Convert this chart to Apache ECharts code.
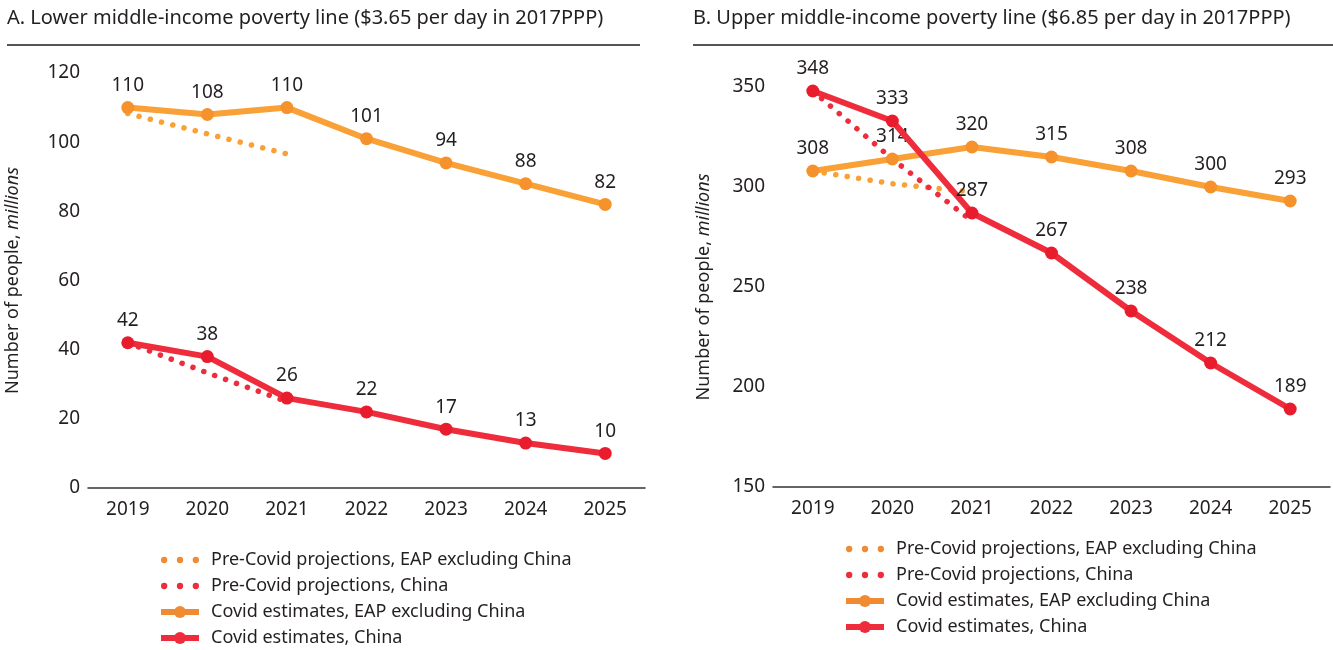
<!DOCTYPE html>
<html>
<head>
<meta charset="utf-8">
<script src="https://cdn.jsdelivr.net/npm/echarts@6/dist/echarts.min.js"></script>
<style>
html,body{margin:0;padding:0;background:#fff;}
#chart{width:1333px;height:650px;}
</style>
</head>
<body>
<div id="chart"></div>
<script>
// ---- Data ----
const years = ['2019','2020','2021','2022','2023','2024','2025'];

// Panel A: Lower middle-income poverty line ($3.65)
const aPreEAP   = [108.3, 102.4, 96.6, '-', '-', '-', '-'];
const aPreChina = [42, 33.3, 25, '-', '-', '-', '-'];
const aCovEAP   = [110, 108, 110, 101, 94, 88, 82];
const aCovChina = [42, 38, 26, 22, 17, 13, 10];

// Panel B: Upper middle-income poverty line ($6.85)
const bPreEAP   = [308, 301.6, 297.5, '-', '-', '-', '-'];
const bPreChina = [348, 314, 283, '-', '-', '-', '-'];
const bCovEAP   = [308, 314, 320, 315, 308, 300, 293];
const bCovChina = [348, 333, 287, 267, 238, 212, 189];

const titleA = 'A. Lower middle-income poverty line ($3.65 per day in 2017PPP)';
const titleB = 'B. Upper middle-income poverty line ($6.85 per day in 2017PPP)';
const names = [
  'Pre-Covid projections, EAP excluding China',
  'Pre-Covid projections, China',
  'Covid estimates, EAP excluding China',
  'Covid estimates, China'
];

// ---- Styles ----
const FONT = 'Noto Sans';
const TXT = '#231f20';
const ORANGE = '#f9a036';
const ORANGE_M = '#f5922c';
const RED = '#ee2c3c';
const RED_M = '#e91c2e';
const DOTS = 'path://M0,3A3,3,0,1,1,6,3A3,3,0,1,1,0,3Z M15,3A3,3,0,1,1,21,3A3,3,0,1,1,15,3Z M30,3A3,3,0,1,1,36,3A3,3,0,1,1,30,3Z';

function dotted(name, data, color, idx) {
  return {
    name: name, type: 'line', xAxisIndex: idx, yAxisIndex: idx,
    data: data, symbol: 'none', silent: true, z: 2,
    lineStyle: { color: color, width: 5.5, type: [0.1, 11.5], cap: 'round' },
    itemStyle: { color: color }
  };
}
function solid(name, data, color, mcolor, idx, z) {
  return {
    name: name, type: 'line', xAxisIndex: idx, yAxisIndex: idx,
    data: data, symbol: 'circle', symbolSize: 13, showAllSymbol: true, z: z,
    lineStyle: { color: color, width: 6 },
    itemStyle: { color: mcolor },
    label: { show: true, position: 'top', distance: 6, fontFamily: FONT, fontSize: 19, color: TXT },
    emphasis: { disabled: true }
  };
}

function xAxis(idx) {
  return {
    type: 'category', gridIndex: idx, data: years, boundaryGap: true,
    axisLine: { lineStyle: { color: '#333', width: 1.5 } },
    axisTick: { show: false },
    axisLabel: { fontFamily: FONT, fontSize: 19, color: TXT, margin: 12 }
  };
}
function yAxis(idx, min, max, interval, gap) {
  return {
    type: 'value', gridIndex: idx, min: min, max: max, interval: interval,
    splitLine: { show: false }, axisLine: { show: false }, axisTick: { show: false },
    axisLabel: { fontFamily: FONT, fontSize: 19, color: TXT, margin: 8 },
    name: '{a|Number of people, }{b|millions}',
    nameLocation: 'middle', nameGap: gap, nameRotate: 90,
    nameTextStyle: {
      rich: {
        a: { fontFamily: FONT, fontSize: 18, color: TXT },
        b: { fontFamily: FONT, fontSize: 18, color: TXT, fontStyle: 'italic' }
      }
    }
  };
}
function legend(left, top) {
  return {
    orient: 'vertical', left: left, top: top, itemGap: 6, padding: 0,
    itemWidth: 38, itemHeight: 15, selectedMode: false,
    textStyle: { fontFamily: FONT, fontSize: 18, color: TXT, lineHeight: 20, padding: [0, 0, 0, 7] },
    data: [
      { name: names[0], icon: DOTS, itemStyle: { color: '#f08a33' } },
      { name: names[1], icon: DOTS, itemStyle: { color: '#ee2c3c' } },
      { name: names[2], lineStyle: { width: 6, color: '#f08a33' }, itemStyle: { color: '#f08a33' } },
      { name: names[3], lineStyle: { width: 6, color: '#ee2c3c' }, itemStyle: { color: '#ee2c3c' } }
    ]
  };
}

const chart = echarts.init(document.getElementById('chart'), null, { renderer: 'canvas' });
chart.setOption({
  animation: false,
  backgroundColor: '#fff',
  textStyle: { fontFamily: FONT },
  graphic: [
    { type: 'text', left: 7, top: 8, style: { text: titleA, fontFamily: FONT, fontSize: 20, fill: TXT } },
    { type: 'rect', left: 7, top: 44, shape: { width: 633, height: 2 }, style: { fill: '#555' } },
    { type: 'text', left: 693, top: 8, style: { text: titleB, fontFamily: FONT, fontSize: 20, fill: TXT } },
    { type: 'rect', left: 693, top: 44, shape: { width: 640, height: 2 }, style: { fill: '#555' } }
  ],
  grid: [
    { left: 88, right: 688, top: 73, bottom: 162 },
    { left: 773, right: 3, top: 87, bottom: 163 }
  ],
  xAxis: [xAxis(0), xAxis(1)],
  yAxis: [yAxis(0, 0, 120, 20, 66), yAxis(1, 150, 350, 50, 60)],
  legend: [legend(158, 550), legend(843, 539)],
  series: [
    dotted(names[0], aPreEAP, ORANGE, 0),
    dotted(names[1], aPreChina, RED, 0),
    solid(names[2], aCovEAP, ORANGE, ORANGE_M, 0, 3),
    solid(names[3], aCovChina, RED, RED_M, 0, 4),
    dotted(names[0], bPreEAP, ORANGE, 1),
    dotted(names[1], bPreChina, RED, 1),
    solid(names[2], bCovEAP, ORANGE, ORANGE_M, 1, 3),
    solid(names[3], bCovChina, RED, RED_M, 1, 4)
  ]
});
</script>
</body>
</html>
